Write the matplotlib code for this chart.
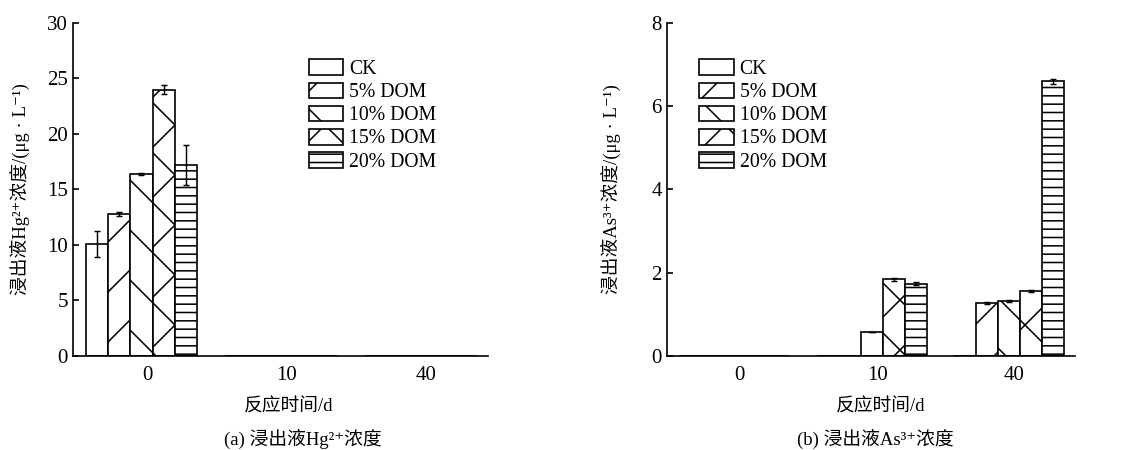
import numpy as np
import matplotlib
matplotlib.use("Agg")
import matplotlib.pyplot as plt

# ---------------- data ----------------
days = ["0", "10", "40"]
series = ["CK", "5% DOM", "10% DOM", "15% DOM", "20% DOM"]

hg_ck = [10.1, 0, 0]
hg_5 = [12.8, 0, 0]
hg_10 = [16.4, 0, 0]
hg_15 = [24.0, 0, 0]
hg_20 = [17.2, 0, 0]
hg_ck_err = [1.15, 0, 0]
hg_5_err = [0.15, 0, 0]
hg_10_err = [0.1, 0, 0]
hg_15_err = [0.4, 0, 0]
hg_20_err = [1.8, 0, 0]

as_ck = [0, 0, 0]
as_5 = [0, 0, 1.28]
as_10 = [0, 0.58, 1.32]
as_15 = [0, 1.84, 1.56]
as_20 = [0, 1.74, 6.60]
as_ck_err = [0, 0, 0]
as_5_err = [0, 0, 0.02]
as_10_err = [0, 0, 0.02]
as_15_err = [0, 0.03, 0.02]
as_20_err = [0, 0.03, 0.06]

hg_vals = [hg_ck, hg_5, hg_10, hg_15, hg_20]
hg_errs = [hg_ck_err, hg_5_err, hg_10_err, hg_15_err, hg_20_err]
as_vals = [as_ck, as_5, as_10, as_15, as_20]
as_errs = [as_ck_err, as_5_err, as_10_err, as_15_err, as_20_err]

hatches = ["", "/", "\\", "x", "---"]

FAM = ["Liberation Serif", "Noto Sans CJK SC", "DejaVu Serif"]
plt.rcParams["font.family"] = FAM
plt.rcParams["hatch.linewidth"] = 0.75
plt.rcParams["axes.linewidth"] = 0.8

fig = plt.figure(figsize=(1131 / 150, 450 / 150), dpi=150)

def panel(rect, vals, errs, ymax, yticks, ylabel, caption, legend_x,
          ylab_x, xlab_dx, cap_dx):
    ax = fig.add_axes(rect)
    x = np.arange(len(days))
    w = 0.16
    off = -0.04
    for i, (v, e) in enumerate(zip(vals, errs)):
        pos = x + off + (i - 2) * w
        ax.bar(pos, v, width=w, color="white", edgecolor="black",
               linewidth=0.8, hatch=hatches[i], label=series[i], zorder=2)
        v = np.asarray(v, float)
        e = np.asarray(e, float)
        m = v > 0
        ax.errorbar(pos[m], v[m], yerr=e[m], fmt="none", ecolor="black",
                    elinewidth=0.7, capsize=1.5, capthick=0.7, zorder=3)
    ax.set_xlim(-0.53, 2.44)
    ax.set_ylim(0, ymax)
    ax.set_yticks(yticks)
    ax.set_xticks(x)
    ax.set_xticklabels(days)
    ax.spines["top"].set_visible(False)
    ax.spines["right"].set_visible(False)
    ax.tick_params(axis="y", direction="in", length=3, width=0.8, labelsize=10, pad=2.5)
    ax.tick_params(axis="x", length=0, labelsize=10, pad=5)
    ax.set_ylabel(ylabel, fontsize=9)
    ax.yaxis.set_label_coords(ylab_x, 0.5)
    ax.set_xlabel("反应时间/d", fontsize=9, va="center")
    ax.xaxis.set_label_coords(0.5 + xlab_dx, -0.153)
    fig.legend(*ax.get_legend_handles_labels(), loc="upper left",
               bbox_to_anchor=(legend_x, 0.868), frameon=False, fontsize=9.5,
               borderpad=0, borderaxespad=0, labelspacing=0.17,
               handlelength=1.75, handleheight=0.85, handletextpad=0.3)
    cx = rect[0] + rect[2] / 2 + cap_dx
    fig.text(cx, 0.003, caption, ha="center", va="bottom", fontsize=9)
    return ax

panel([0.0645, 0.209, 0.367, 0.74], hg_vals, hg_errs, 30, [0, 5, 10, 15, 20, 25, 30],
      "浸出液Hg²⁺浓度/(μg · L⁻¹)", "(a) 浸出液Hg²⁺浓度", 0.273,
      -0.104, 0.02, 0.02)
panel([0.5897, 0.209, 0.3607, 0.74], as_vals, as_errs, 8, [0, 2, 4, 6, 8],
      "浸出液As³⁺浓度/(μg · L⁻¹)", "(b) 浸出液As³⁺浓度", 0.618,
      -0.113, 0.025, 0.004)

fig.savefig("out.png", dpi=150)
